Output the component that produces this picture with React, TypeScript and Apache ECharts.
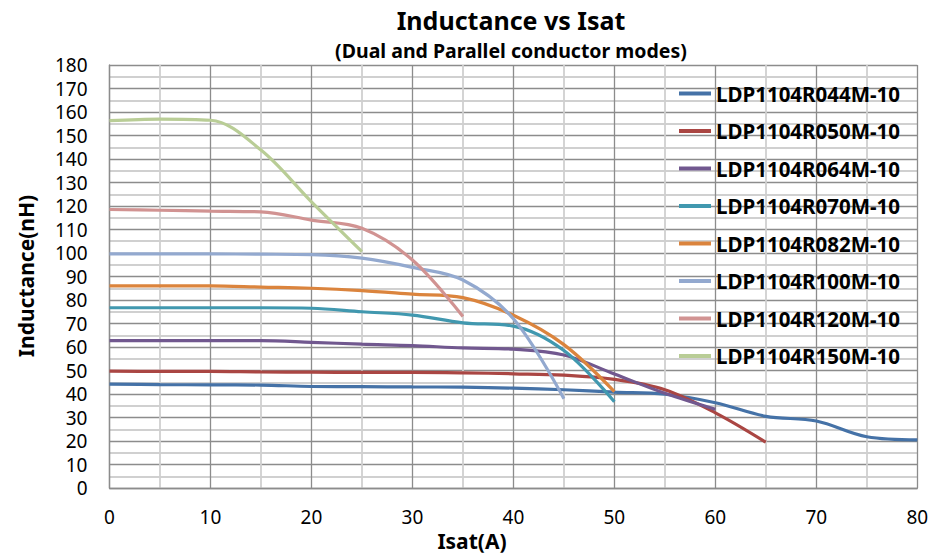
import React, { useEffect, useRef } from "react";
import * as echarts from "echarts";

const seriesNames = [
  "LDP1104R044M-10",
  "LDP1104R050M-10",
  "LDP1104R064M-10",
  "LDP1104R070M-10",
  "LDP1104R082M-10",
  "LDP1104R100M-10",
  "LDP1104R120M-10",
  "LDP1104R150M-10",
];

const currents = [0, 5, 10, 15, 20, 25, 30, 35, 40, 45, 50, 55, 60, 65, 70, 75, 80];

const l044 = [44.2, 44.0, 43.9, 43.8, 43.2, 43.1, 43.0, 42.9, 42.5, 41.8, 40.8, 39.9, 36.3, 30.5, 28.5, 21.8, 20.5];
const l050 = [49.7, 49.6, 49.6, 49.4, 49.3, 49.2, 49.2, 49.0, 48.6, 48.0, 46.2, 41.8, 32.0, 19.5];
const l064 = [62.7, 62.7, 62.7, 62.7, 62.0, 61.2, 60.6, 59.6, 59.1, 56.6, 48.5, 40.3, 33.5];
const l070 = [76.7, 76.7, 76.7, 76.7, 76.5, 75.0, 73.6, 70.3, 68.9, 58.5, 36.7];
const l082 = [86.0, 86.0, 86.0, 85.5, 85.0, 84.0, 82.5, 81.0, 73.5, 61.0, 41.0];
const l100 = [99.6, 99.6, 99.6, 99.5, 99.3, 97.8, 93.9, 88.5, 72.0, 38.0];
const l120 = [118.5, 118.2, 117.8, 117.5, 114.0, 110.5, 97.0, 73.0];
const l150 = [156.3, 157.0, 156.5, 143.8, 121.8, 100.6];

const seriesValues = [l044, l050, l064, l070, l082, l100, l120, l150];

const colors = ["#4572A7", "#AA4643", "#71588F", "#4198AF", "#DB843D", "#93A9CF", "#D19392", "#B9CD96"];

const titleText = "Inductance vs Isat";
const subtitleText = "(Dual and Parallel conductor modes)";
const xName = "Isat(A)";
const yName = "Inductance(nH)";

const FONT = "'Noto Sans', 'Open Sans', sans-serif";

export default function App() {
  const ref = useRef<HTMLDivElement>(null);

  useEffect(() => {
    if (!ref.current) return;
    const chart = echarts.init(ref.current, undefined, { renderer: "svg" });
    const series = seriesNames.map((name, i) => ({
      name,
      type: "line",
      smooth: 0.35,
      symbol: "none",
      showSymbol: false,
      lineStyle: { width: 3.2, color: colors[i] },
      itemStyle: { color: colors[i] },
      data: seriesValues[i].map((v, j) => [currents[j], v]),
    }));

    chart.setOption({
      animation: false,
      textStyle: { fontFamily: FONT },
      grid: { left: 109.5, right: 23.7, top: 65, bottom: 70, containLabel: false },
      xAxis: {
        type: "value",
        min: 0,
        max: 80,
        interval: 10,
        axisLine: { show: true, lineStyle: { color: "#8c8c8c", width: 1.3 } },
        axisTick: { show: false },
        axisLabel: { color: "#000", fontSize: 19, margin: 19, fontFamily: FONT },
        splitLine: { show: true, lineStyle: { color: "#8c8c8c", width: 1.3 } },
        minorTick: { show: false, splitNumber: 2 },
        minorSplitLine: { show: true, lineStyle: { color: "#d0d0d0", width: 1.8 } },
      },
      yAxis: {
        type: "value",
        min: 0,
        max: 180,
        interval: 10,
        axisLine: { show: true, lineStyle: { color: "#8c8c8c", width: 1.3 } },
        axisTick: { show: false },
        axisLabel: { color: "#000", fontSize: 19, margin: 22, fontFamily: FONT },
        splitLine: { show: true, lineStyle: { color: "#8c8c8c", width: 1.3 } },
        minorTick: { show: false, splitNumber: 2 },
        minorSplitLine: { show: true, lineStyle: { color: "#d0d0d0", width: 1.8 } },
      },
      legend: {
        orient: "vertical",
        left: 674,
        top: 78,
        icon: "rect",
        itemWidth: 32,
        itemHeight: 4,
        itemGap: 16.5,
        data: seriesNames,
        textStyle: { color: "#000", fontSize: 20.5, fontWeight: "bold", fontFamily: FONT },
      },
      graphic: [
        {
          type: "text",
          x: 511,
          y: 20,
          style: {
            text: titleText,
            fill: "#000",
            font: `bold 25px ${FONT}`,
            textAlign: "center",
            textVerticalAlign: "middle",
          },
        },
        {
          type: "text",
          x: 511,
          y: 50,
          style: {
            text: subtitleText,
            fill: "#000",
            font: `bold 19.5px ${FONT}`,
            textAlign: "center",
            textVerticalAlign: "middle",
          },
        },
        {
          type: "text",
          x: 472,
          y: 541,
          style: {
            text: xName,
            fill: "#000",
            font: `bold 21px ${FONT}`,
            textAlign: "center",
            textVerticalAlign: "middle",
          },
        },
        {
          type: "text",
          x: 26,
          y: 276,
          rotation: Math.PI / 2,
          style: {
            text: yName,
            fill: "#000",
            font: `bold 21px ${FONT}`,
            textAlign: "center",
            textVerticalAlign: "middle",
          },
        },
      ],
      series,
    });

    return () => {
      chart.dispose();
    };
  }, []);

  return (
    <div
      ref={ref}
      style={{ position: "fixed", left: 0, top: 0, width: 941, height: 558, background: "#fff" }}
    />
  );
}
